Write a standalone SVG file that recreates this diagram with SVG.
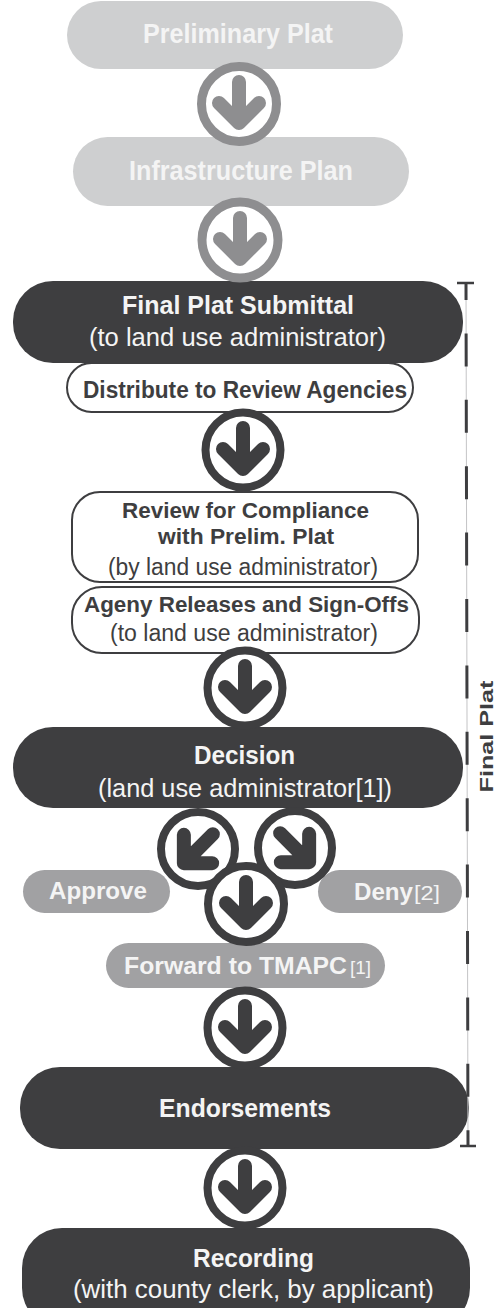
<svg xmlns="http://www.w3.org/2000/svg" xmlns:xlink="http://www.w3.org/1999/xlink" width="501" height="1308" viewBox="0 0 501 1308">
<style>
.lt{fill:#cecfd0}
.md{fill:#a1a1a3}
.dk{fill:#3e3e40}
.wb{fill:#fff;stroke:#3e3e40;stroke-width:2}
.b{font-family:"Liberation Sans",Arial,sans-serif;font-weight:bold}
.r{font-family:"Liberation Sans",Arial,sans-serif;font-weight:normal}
.tw{fill:#f4f4f4}
.td{fill:#3e3e40}
.ringL{fill:#fff;stroke:#8e8e90;stroke-width:9}
.ringD{fill:#fff;stroke:#3e3e40;stroke-width:8}
.arL{stroke:#8e8e90}
.arD{stroke:#3e3e40}
</style>
<defs>
<path id="arr" d="M0,-21 V19 M-20,0 L0,20 L20,0" fill="none" stroke-width="14" stroke-linecap="round" stroke-linejoin="round"/>
</defs>
<rect width="501" height="1308" fill="#fff"/>

<g id="n-prelim">
<rect class="lt" x="67" y="1" width="336" height="68" rx="34"/>
<text class="b tw" x="143" y="43" font-size="27" textLength="190" lengthAdjust="spacingAndGlyphs">Preliminary Plat</text>
</g>
<g id="n-infra">
<rect class="lt" x="73" y="137" width="336" height="69" rx="34.5"/>
<text class="b tw" x="129" y="180" font-size="27" textLength="224" lengthAdjust="spacingAndGlyphs">Infrastructure Plan</text>
</g>
<g id="n-submittal">
<rect class="dk" x="13" y="281" width="450" height="82" rx="40"/>
<text class="b tw" x="122" y="314" font-size="25" textLength="232" lengthAdjust="spacingAndGlyphs">Final Plat Submittal</text>
<text class="r tw" x="89" y="346" font-size="25" textLength="297" lengthAdjust="spacingAndGlyphs">(to land use administrator)</text>
</g>
<g id="n-distribute">
<rect class="wb" x="67" y="363" width="346" height="49" rx="24.5"/>
<text class="b td" x="83" y="398" font-size="23" textLength="324" lengthAdjust="spacingAndGlyphs">Distribute to Review Agencies</text>
</g>
<g id="n-review">
<rect class="wb" x="72" y="492" width="346" height="90" rx="28"/>
<text class="b td" x="122" y="518" font-size="22" textLength="247" lengthAdjust="spacingAndGlyphs">Review for Compliance</text>
<text class="b td" x="158" y="544" font-size="22" textLength="176" lengthAdjust="spacingAndGlyphs">with Prelim. Plat</text>
<text class="r td" x="108" y="575" font-size="23" textLength="270" lengthAdjust="spacingAndGlyphs">(by land use administrator)</text>
</g>
<g id="n-agency">
<rect class="wb" x="72" y="587" width="347" height="66" rx="30"/>
<text class="b td" x="84" y="612" font-size="22" textLength="325" lengthAdjust="spacingAndGlyphs">Ageny Releases and Sign-Offs</text>
<text class="r td" x="110" y="641" font-size="23" textLength="268" lengthAdjust="spacingAndGlyphs">(to land use administrator)</text>
</g>
<g id="n-decision">
<rect class="dk" x="13" y="727" width="450" height="81" rx="40"/>
<text class="b tw" x="194" y="764" font-size="25" textLength="101" lengthAdjust="spacingAndGlyphs">Decision</text>
<text class="r tw" x="98" y="797" font-size="25" textLength="294" lengthAdjust="spacingAndGlyphs">(land use administrator[1])</text>
</g>
<g id="n-approve">
<rect class="md" x="23" y="870" width="147" height="43" rx="21.5"/>
<text class="b tw" x="49" y="899" font-size="24" textLength="98" lengthAdjust="spacingAndGlyphs">Approve</text>
</g>
<g id="n-deny">
<rect class="md" x="318" y="870" width="144" height="43" rx="21.5"/>
<text class="b tw" x="354" y="900" font-size="24" textLength="59" lengthAdjust="spacingAndGlyphs">Deny</text>
<text class="r tw" x="414" y="900" font-size="20" textLength="26" lengthAdjust="spacingAndGlyphs">[2]</text>
</g>
<g id="n-forward">
<rect class="md" x="106" y="943" width="279" height="45" rx="22.5"/>
<text class="b tw" x="124" y="974" font-size="24" textLength="223" lengthAdjust="spacingAndGlyphs">Forward to TMAPC</text>
<text class="r tw" x="350" y="974" font-size="19" textLength="21" lengthAdjust="spacingAndGlyphs">[1]</text>
</g>
<g id="n-endorse">
<rect class="dk" x="20" y="1067" width="449" height="82" rx="40"/>
<text class="b tw" x="159" y="1117" font-size="25" textLength="172" lengthAdjust="spacingAndGlyphs">Endorsements</text>
</g>
<g id="n-recording">
<rect class="dk" x="22" y="1228" width="448" height="100" rx="40"/>
<text class="b tw" x="193" y="1267" font-size="25" textLength="121" lengthAdjust="spacingAndGlyphs">Recording</text>
<text class="r tw" x="73" y="1298" font-size="25" textLength="361" lengthAdjust="spacingAndGlyphs">(with county clerk, by applicant)</text>
</g>

<g id="connectors">
<circle class="ringL" cx="239" cy="104" r="37.5"/>
<use href="#arr" xlink:href="#arr" class="arL" transform="translate(239,103)"/>
<circle class="ringL" cx="240" cy="240" r="38"/>
<use href="#arr" xlink:href="#arr" class="arL" transform="translate(240,239)"/>
<circle class="ringD" cx="243" cy="450" r="37.5"/>
<use href="#arr" xlink:href="#arr" class="arD" transform="translate(243,449)"/>
<circle class="ringD" cx="245" cy="688" r="37.5"/>
<use href="#arr" xlink:href="#arr" class="arD" transform="translate(245,687)"/>
<circle class="ringD" cx="198" cy="849" r="37"/>
<use href="#arr" xlink:href="#arr" class="arD" transform="translate(198,849) rotate(45)"/>
<circle class="ringD" cx="295" cy="848" r="37"/>
<use href="#arr" xlink:href="#arr" class="arD" transform="translate(295,848) rotate(-45)"/>
<circle class="ringD" cx="246" cy="904" r="38"/>
<use href="#arr" xlink:href="#arr" class="arD" transform="translate(246,903)"/>
<circle class="ringD" cx="245" cy="1028" r="37.5"/>
<use href="#arr" xlink:href="#arr" class="arD" transform="translate(245,1027)"/>
<circle class="ringD" cx="245" cy="1188" r="37.5"/>
<use href="#arr" xlink:href="#arr" class="arD" transform="translate(245,1187)"/>
</g>

<g id="bracket">
<line x1="466" y1="283" x2="468" y2="1146" stroke="#c4c4c6" stroke-width="1"/>
<line x1="466" y1="283" x2="468" y2="1146" stroke="#3e3e40" stroke-width="3" stroke-dasharray="33 33.4" stroke-dashoffset="16"/>
<line x1="457" y1="283" x2="474" y2="283" stroke="#3e3e40" stroke-width="2.5"/>
<line x1="460" y1="1146" x2="476" y2="1146" stroke="#3e3e40" stroke-width="2.5"/>
<text class="b td" transform="translate(493,736.5) rotate(-90)" text-anchor="middle" font-size="19" textLength="112" lengthAdjust="spacingAndGlyphs">Final Plat</text>
</g>
</svg>
